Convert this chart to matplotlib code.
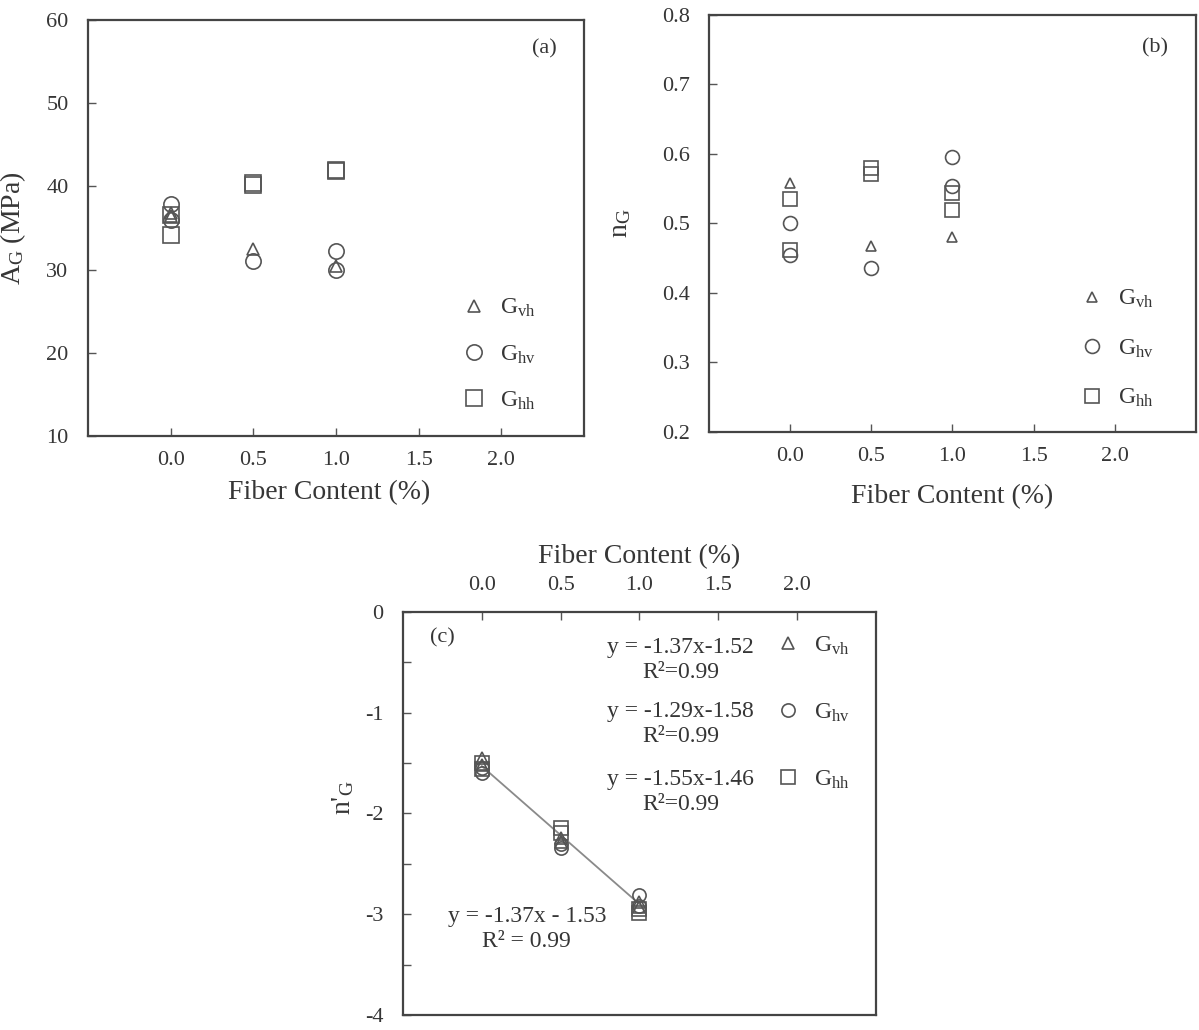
import matplotlib
matplotlib.use('Agg')
import matplotlib.pyplot as plt
from matplotlib.ticker import MultipleLocator, FormatStrFormatter

plt.rcParams['font.family'] = ['Liberation Serif', 'DejaVu Serif']
plt.rcParams['mathtext.fontset'] = 'custom'
plt.rcParams['mathtext.rm'] = 'Liberation Serif'
plt.rcParams['mathtext.it'] = 'Liberation Serif:italic'
plt.rcParams['axes.unicode_minus'] = False

INK = '#363636'
MARK = '#555555'

labels = [r'G$_{\rm vh}$', r'G$_{\rm hv}$', r'G$_{\rm hh}$']
x_ticks = [0.0, 0.5, 1.0, 1.5, 2.0]

# (a) A_G (MPa)
a_vh_x = [0.0, 0.0, 0.5, 1.0]
a_vh_y = [36.8, 36.4, 32.5, 30.4]
a_hv_x = [0.0, 0.0, 0.5, 1.0, 1.0]
a_hv_y = [37.9, 36.0, 31.0, 32.2, 30.0]
a_hh_x = [0.0, 0.0, 0.5, 0.5, 1.0, 1.0]
a_hh_y = [34.2, 36.6, 40.2, 40.4, 41.8, 42.0]

# (b) n_G
b_vh_x = [0.0, 0.5, 1.0]
b_vh_y = [0.558, 0.467, 0.481]
b_hv_x = [0.0, 0.0, 0.5, 1.0, 1.0]
b_hv_y = [0.501, 0.455, 0.436, 0.596, 0.554]
b_hh_x = [0.0, 0.0, 0.5, 0.5, 1.0, 1.0]
b_hh_y = [0.535, 0.462, 0.580, 0.571, 0.544, 0.519]

# (c) n'_G
c_x = [0.0, 0.0, 0.5, 0.5, 1.0, 1.0]
c_vh_y = [-1.45, -1.52, -2.24, -2.28, -2.88, -2.93]
c_hv_y = [-1.55, -1.60, -2.30, -2.34, -2.81, -2.92]
c_hh_y = [-1.50, -1.56, -2.14, -2.19, -2.95, -2.99]
c_fits = ['y = -1.37x-1.52\nR\u00b2=0.99',
          'y = -1.29x-1.58\nR\u00b2=0.99',
          'y = -1.55x-1.46\nR\u00b2=0.99']
c_fit_y = [-0.48, -1.115, -1.79]
c_all_slope = -1.37
c_all_icpt = -1.53
c_all_x = [0.0, 1.0]


def style_axes(ax, top=False):
    for s in ax.spines.values():
        s.set_color('#444444')
        s.set_linewidth(1.6)
    ax.set_xlim(-0.5, 2.5)
    ax.set_xticks(x_ticks)
    ax.xaxis.set_major_formatter(FormatStrFormatter('%.1f'))
    ax.tick_params(direction='in', length=6, width=1.0, colors='#555555',
                   labelcolor=INK, labelsize=16)
    if top:
        ax.xaxis.tick_top()
        ax.xaxis.set_label_position('top')
        ax.tick_params(axis='x', pad=12)
    else:
        ax.tick_params(axis='x', pad=11)
    ax.tick_params(axis='y', pad=14)


def scatter3(ax, xs, ys, sizes):
    marks = ['^', 'o', 's']
    for x, y, m, ms, lab in zip(xs, ys, marks, sizes, labels):
        ax.plot(x, y, ls='none', marker=m, ms=ms, mfc='none', mec=MARK,
                mew=1.2, label=lab)


def add_legend(ax, anchor, spacing):
    ax.legend(loc='center left', bbox_to_anchor=anchor, frameon=False,
              fontsize=17, handlelength=1.0, handletextpad=0.6,
              labelspacing=spacing, borderpad=0, borderaxespad=0,
              labelcolor=INK)


fig = plt.figure(figsize=(11.99, 10.30), dpi=100)

# (a)
ax = fig.add_axes([0.0734, 0.5767, 0.4137, 0.4039])
scatter3(ax, [a_vh_x, a_hv_x, a_hh_x], [a_vh_y, a_hv_y, a_hh_y], [9, 11, 11])
style_axes(ax)
ax.set_ylim(10, 60)
ax.yaxis.set_major_locator(MultipleLocator(10))
ax.set_ylabel(r'A$_{\rm G}$ (MPa)', fontsize=20, color=INK)
ax.set_xlabel('Fiber Content (%)', fontsize=20, color=INK)
ax.yaxis.set_label_coords(-0.121, 0.5)
ax.xaxis.set_label_coords(0.486, -0.105)
ax.text(2.26, 56.5, '(a)', fontsize=16, color=INK, ha='center', va='center')
add_legend(ax, (0.754, 0.196), 1.02)

# (b)
ax = fig.add_axes([0.5913, 0.5806, 0.4062, 0.4049])
scatter3(ax, [b_vh_x, b_hv_x, b_hh_x], [b_vh_y, b_hv_y, b_hh_y], [7.5, 10, 10])
style_axes(ax)
ax.set_ylim(0.2, 0.8)
ax.yaxis.set_major_locator(MultipleLocator(0.1))
ax.yaxis.set_major_formatter(FormatStrFormatter('%.1f'))
ax.set_ylabel(r'n$_{\rm G}$', fontsize=20, color=INK)
ax.set_xlabel('Fiber Content (%)', fontsize=20, color=INK)
ax.yaxis.set_label_coords(-0.156, 0.5)
ax.xaxis.set_label_coords(0.5, -0.125)
ax.text(2.25, 0.752, '(b)', fontsize=16, color=INK, ha='center', va='center')
add_legend(ax, (0.762, 0.200), 1.15)

# (c)
ax = fig.add_axes([0.3361, 0.01456, 0.3945, 0.3913])
ax.plot(c_all_x, [c_all_slope * x + c_all_icpt for x in c_all_x],
        color='#8a8a8a', lw=1.3, zorder=1)
scatter3(ax, [c_x, c_x, c_x], [c_vh_y, c_hv_y, c_hh_y], [8, 9.5, 9.5])
style_axes(ax, top=True)
ax.set_ylim(-4, 0)
ax.yaxis.set_major_locator(MultipleLocator(1))
ax.yaxis.set_minor_locator(MultipleLocator(0.5))
ax.tick_params(axis='y', which='minor', direction='in', length=6,
               width=1.0, colors='#555555')
ax.yaxis.set_major_formatter(FormatStrFormatter('%d'))
ax.set_ylabel(r"n$'_{\rm G}$", fontsize=20, color=INK)
ax.set_xlabel('Fiber Content (%)', fontsize=20, color=INK)
ax.yaxis.set_label_coords(-0.10, 0.54)
ax.xaxis.set_label_coords(0.5, 1.12)
ax.text(-0.25, -0.26, '(c)', fontsize=16, color=INK, ha='center', va='center')
for txt, y in zip(c_fits, c_fit_y):
    ax.text(1.26, y, txt, fontsize=17, color=INK, ha='center', va='center',
            multialignment='center', linespacing=1.25)
ax.text(0.285, -3.15,
        f'y = {c_all_slope}x - {abs(c_all_icpt)}\nR\u00b2 = 0.99',
        fontsize=17, color=INK, ha='center', va='center',
        multialignment='center', linespacing=1.25)
add_legend(ax, (0.789, 0.750), 1.9)

fig.savefig('out.png', dpi=100)
